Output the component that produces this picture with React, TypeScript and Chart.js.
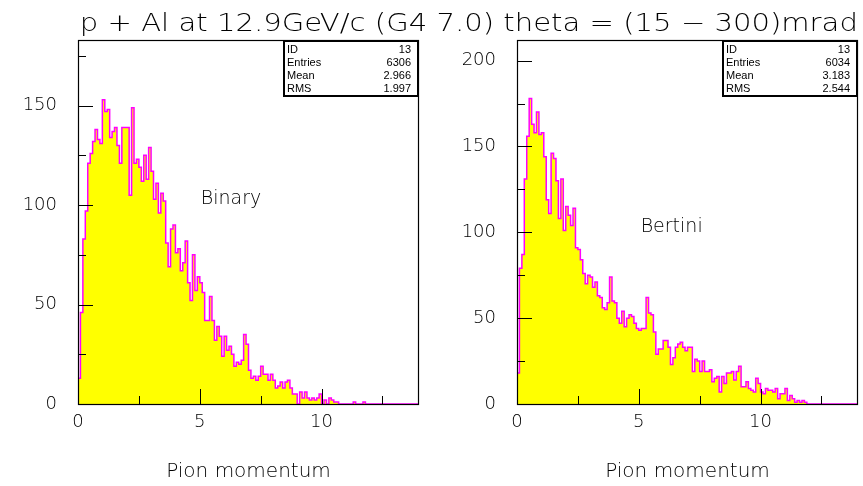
import React, { useEffect, useLayoutEffect, useRef } from 'react';
import { Chart, registerables } from 'chart.js';

Chart.register(...registerables);

// ---------- data ----------
const TITLE = 'p + Al at 12.9GeV/c (G4 7.0) theta = (15 \u2212 300)mrad';
const X_TITLE = 'Pion momentum';
const BIN_WIDTH = 0.1;
const X_MIN = 0;
const X_MAX = 14;
const X_TICKS = [0, 2.5, 5, 7.5, 10, 12.5];
const X_LABELED = [0, 5, 10];

const Y1_TICKS = [0, 25, 50, 75, 100, 125, 150, 175];
const Y1_LABELED = [0, 50, 100, 150];
const Y1_MAX = 183;
const Y2_TICKS = [0, 25, 50, 75, 100, 125, 150, 175, 200];
const Y2_LABELED = [0, 50, 100, 150, 200];
const Y2_MAX = 212;

const MODEL_1 = 'Binary';
const MODEL_2 = 'Bertini';

const BINARY_COUNTS = [
  13, 46, 83, 97, 121, 126, 132, 138, 133, 131,
  153, 147, 148, 134, 137, 139, 130, 121, 139, 139,
  139, 105, 149, 121, 123, 119, 112, 125, 113, 129,
  117, 103, 111, 96, 106, 102, 81, 69, 88, 90,
  76, 78, 67, 71, 82, 61, 52, 75, 57, 64,
  61, 56, 42, 42, 54, 42, 32, 39, 34, 24,
  34, 27, 29, 25, 19, 21, 20, 22, 35, 30,
  17, 13, 14, 12, 14, 19, 15, 15, 12, 15,
  12, 8, 9, 11, 8, 11, 12, 8, 5, 5,
  0, 6, 3, 6, 3, 2, 3, 2, 3, 5,
  0, 2, 0, 3, 2, 1, 1, 0, 0, 0,
  0, 0, 0, 1, 0, 0, 0, 1, 0, 0,
  0, 0, 0, 0, 0, 0, 0, 0, 0, 0,
  0, 0, 0, 0, 0, 0, 0, 0, 0, 0,
];

const BERTINI_COUNTS = [
  18, 79, 87, 131, 156, 178, 163, 158, 170, 157,
  158, 144, 119, 111, 146, 143, 130, 108, 131, 101,
  115, 110, 104, 114, 91, 90, 84, 76, 70, 75,
  74, 68, 71, 63, 62, 56, 55, 59, 74, 60,
  59, 50, 47, 54, 45, 50, 52, 51, 47, 44,
  43, 44, 44, 62, 53, 52, 42, 29, 32, 32,
  37, 37, 33, 23, 27, 33, 35, 36, 33, 31,
  33, 33, 19, 26, 25, 19, 25, 19, 19, 20,
  13, 15, 16, 7, 16, 12, 18, 18, 19, 14,
  19, 22, 10, 10, 13, 9, 8, 7, 15, 12,
  7, 6, 9, 8, 8, 7, 9, 3, 6, 6,
  9, 2, 5, 3, 1, 2, 1, 2, 1, 0,
  0, 0, 0, 0, 0, 0, 0, 0, 0, 0,
  0, 0, 0, 0, 0, 0, 0, 0, 0, 0,
];

const STAT_LABELS = ['ID', 'Entries', 'Mean', 'RMS'];
const BINARY_STATS = ['13', '6306', '2.966', '1.997'];
const BERTINI_STATS = ['13', '6034', '3.183', '2.544'];

// label anchor positions in data units
const BINARY_LABEL_POS = [6.28, 103];
const BERTINI_LABEL_POS = [6.35, 103];

// ---------- styling ----------
const FONT = '"DejaVu Sans", sans-serif';
const FONT_WEIGHT = '200';

const pawPlugin = {
  id: 'paw',
  afterDatasetsDraw(chart: any, _args: any, opts: any) {
    const { ctx, chartArea: a, scales } = chart;
    const x = scales.x;
    const y = scales.y;
    ctx.save();
    ctx.strokeStyle = '#000';
    ctx.lineWidth = 1;
    // x ticks (inside)
    for (const t of x.ticks) {
      const px = Math.round(x.getPixelForValue(t.value)) + 0.5;
      const len = X_LABELED.includes(t.value) ? 15 : 8;
      ctx.beginPath();
      ctx.moveTo(px, a.bottom);
      ctx.lineTo(px, a.bottom - len);
      ctx.stroke();
    }
    // y ticks (inside)
    for (const t of y.ticks) {
      const py = Math.round(y.getPixelForValue(t.value)) + 0.5;
      const len = t.value % 50 === 0 ? 15 : 8;
      ctx.beginPath();
      ctx.moveTo(a.left, py);
      ctx.lineTo(a.left + len, py);
      ctx.stroke();
    }
    // frame
    ctx.lineWidth = 1.2;
    ctx.strokeRect(Math.round(a.left) + 0.5, Math.round(a.top) + 0.5,
      Math.round(a.right - a.left) - 1, Math.round(a.bottom - a.top));

    // model label
    ctx.fillStyle = '#000';
    ctx.font = `${FONT_WEIGHT} 19px ${FONT}`;
    ctx.textAlign = 'center';
    ctx.textBaseline = 'middle';
    ctx.fillText(opts.label, x.getPixelForValue(opts.labelPos[0]), y.getPixelForValue(opts.labelPos[1]));

    // stat box
    const bw = 136;
    const bh = 57;
    const bx = Math.round(a.right) - bw;
    const by = Math.round(a.top);
    ctx.fillStyle = '#fff';
    ctx.fillRect(bx, by, bw, bh);
    ctx.lineWidth = 2;
    ctx.strokeRect(bx + 1, by + 1, bw - 2, bh - 2);
    ctx.fillStyle = '#000';
    ctx.font = `11px "Liberation Sans", sans-serif`;
    ctx.textBaseline = 'alphabetic';
    STAT_LABELS.forEach((lab, i) => {
      const base = by + 12.5 + i * 13.3;
      ctx.textAlign = 'left';
      ctx.fillText(lab, bx + 4, base);
      ctx.textAlign = 'right';
      ctx.fillText(opts.stats[i], bx + bw - 8, base);
    });
    ctx.restore();
  },
};

function makeConfig(
  counts: number[], yTicks: number[], yLabeled: number[], yMax: number,
  yWidth: number, padRight: number, label: string, labelPos: number[], stats: string[],
): any {
  const points = counts.map((c, i) => ({ x: X_MIN + i * BIN_WIDTH, y: c }));
  points.push({ x: X_MAX, y: counts[counts.length - 1] });
  return {
    type: 'line',
    data: {
      datasets: [{
        data: points,
        stepped: 'before',
        borderColor: '#ff00ff',
        borderWidth: 1.5,
        backgroundColor: '#ffff00',
        fill: 'origin',
        pointRadius: 0,
        tension: 0,
      }],
    },
    options: {
      responsive: false,
      animation: false,
      devicePixelRatio: 1,
      layout: { padding: { top: 40, right: padRight, left: 0, bottom: 0 } },
      plugins: {
        legend: { display: false },
        tooltip: { enabled: false },
        paw: { label, labelPos, stats },
      },
      scales: {
        x: {
          type: 'linear',
          min: X_MIN,
          max: X_MAX,
          grid: { display: false, drawTicks: false },
          border: { display: false },
          afterBuildTicks: (s: any) => { s.ticks = X_TICKS.map((v) => ({ value: v })); },
          afterFit: (s: any) => { s.height = 82; },
          ticks: {
            autoSkip: false,
            maxRotation: 0,
            padding: 8,
            color: '#000',
            font: { family: FONT, size: 18, weight: FONT_WEIGHT },
            callback: (v: number) => (X_LABELED.includes(v) ? String(v) : ''),
          },
          title: {
            display: true,
            text: X_TITLE,
            color: '#000',
            font: { family: FONT, size: 20, weight: FONT_WEIGHT },
            padding: { top: 0, bottom: 2 },
          },
        },
        y: {
          type: 'linear',
          min: 0,
          max: yMax,
          grid: { display: false, drawTicks: false },
          border: { display: false },
          afterBuildTicks: (s: any) => { s.ticks = yTicks.map((v) => ({ value: v })); },
          afterFit: (s: any) => { s.width = yWidth; },
          ticks: {
            autoSkip: false,
            padding: 21,
            color: '#000',
            font: { family: FONT, size: 18, weight: FONT_WEIGHT },
            callback: (v: number) => (yLabeled.includes(v) ? String(v) : ''),
          },
        },
      },
    },
    plugins: [pawPlugin],
  };
}

function HistChart(props: { left: number; width: number; config: any }) {
  const ref = useRef<HTMLCanvasElement>(null);
  useEffect(() => {
    const chart = new Chart(ref.current as HTMLCanvasElement, props.config);
    return () => chart.destroy();
  }, []);
  return (
    <canvas
      ref={ref}
      width={props.width}
      height={486}
      style={{ position: 'absolute', left: props.left, top: 0, width: props.width, height: 486 }}
    />
  );
}

const TITLE_RIGHT = 858;
const TITLE_WIDTH = 778;

function Title() {
  const ref = useRef<HTMLSpanElement>(null);
  useLayoutEffect(() => {
    const el = ref.current;
    if (!el) return;
    const w = el.getBoundingClientRect().width;
    if (w > 0) el.style.transform = `scaleX(${TITLE_WIDTH / w})`;
  }, []);
  return (
    <span
      ref={ref}
      style={{
        position: 'absolute',
        right: 863 - TITLE_RIGHT,
        top: 11,
        display: 'inline-block',
        whiteSpace: 'nowrap',
        fontFamily: FONT,
        fontWeight: 200,
        fontSize: 24,
        lineHeight: '24px',
        color: '#000',
        transformOrigin: 'right center',
      }}
    >
      {TITLE}
    </span>
  );
}

export default function App() {
  const cfg1 = makeConfig(BINARY_COUNTS, Y1_TICKS, Y1_LABELED, Y1_MAX, 78, 12, MODEL_1, BINARY_LABEL_POS, BINARY_STATS);
  const cfg2 = makeConfig(BERTINI_COUNTS, Y2_TICKS, Y2_LABELED, Y2_MAX, 86, 5, MODEL_2, BERTINI_LABEL_POS, BERTINI_STATS);
  return (
    <div style={{ position: 'fixed', left: 0, top: 0, width: 863, height: 486, background: '#fff', overflow: 'hidden' }}>
      <HistChart left={0} width={431} config={cfg1} />
      <HistChart left={431} width={432} config={cfg2} />
      <Title />
    </div>
  );
}
